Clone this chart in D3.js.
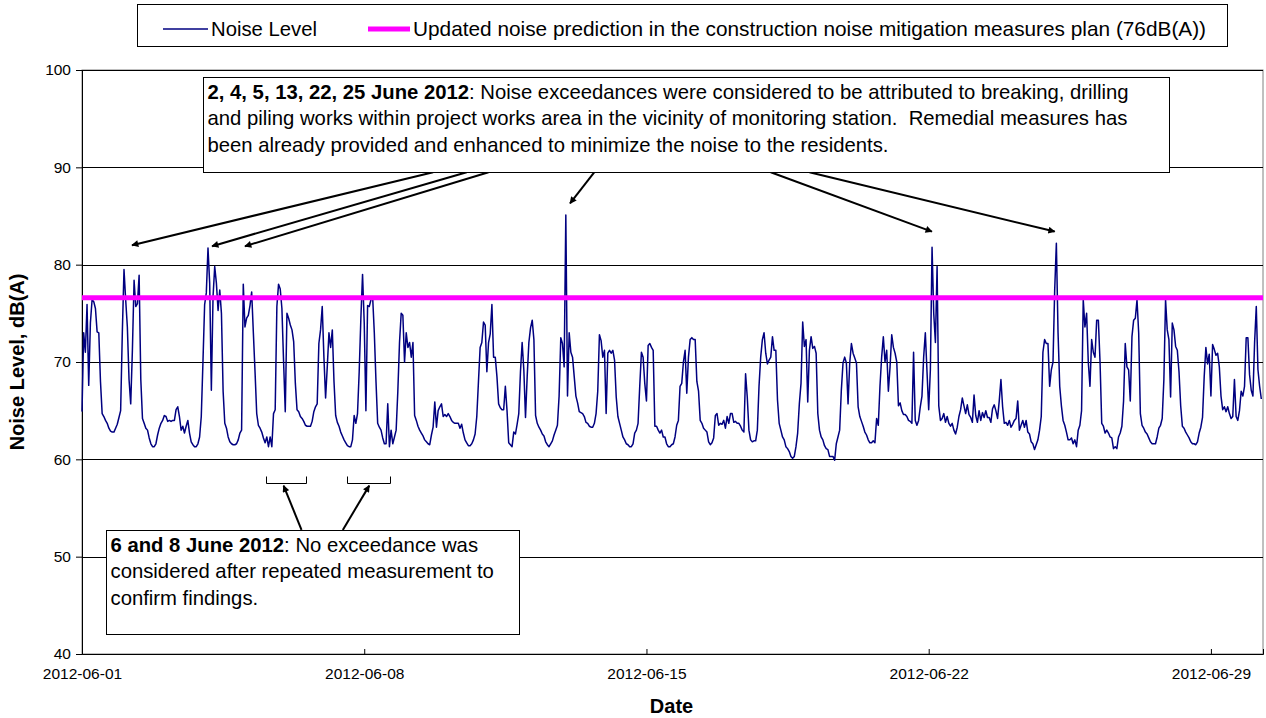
<!DOCTYPE html>
<html>
<head>
<meta charset="utf-8">
<script src="https://cdn.jsdelivr.net/npm/d3@7"></script>
<style>
  body { margin: 0; background: #fff; }
  text { font-family: "Liberation Sans", Arial, sans-serif; }
</style>
</head>
<body>
<svg id="chart" width="1266" height="718"></svg>
<script>
// hourly noise readings, 2012-06-01 00:00 onwards, one row per day
const startTime = new Date(2012, 5, 1, 0);
const endTime = new Date(2012, 5, 30, 7);

const week1 = [
  64.9, 73, 71, 75.9, 67.6, 74, 76.4, 76.2, 75.5, 73.1, 73, 68, 64.7, 64.4, 64, 63.7, 63.2, 62.9, 62.8, 62.8, 63.2, 63.6, 64.3, 65,
  73, 79.5, 76.4, 73.6, 68.2, 65.7, 71.2, 78.4, 75.7, 76, 78.9, 68.2, 64.2, 63.7, 63.2, 63, 62.2, 61.6, 61.3, 61.3, 61.6, 62.5, 63.2, 63.7,
  64, 64.5, 64.4, 63.9, 64, 63.9, 64, 64, 65.1, 65.4, 64.4, 63, 63.4, 62.7, 63.4, 64, 62.7, 61.8, 61.5, 61.3, 61.3, 61.6, 62.3, 64.4,
  70, 75.9, 77.1, 81.7, 78.1, 67.1, 76.7, 79.8, 78.1, 75.3, 77.4, 75, 67, 63.7, 63.2, 62.3, 61.8, 61.6, 61.5, 61.5, 61.6, 62, 62.7, 63,
  78, 73.6, 74.5, 74.8, 75.8, 77.2, 73, 69, 64.7, 63.5, 63.2, 62.8, 62.2, 61.7, 62.3, 61.3, 62.3, 61.3, 64.7, 65.1, 75.7, 78, 77.5, 75.5,
  70, 64.9, 75, 74.5, 73.8, 73.3, 72.1, 67.8, 65.1, 64.9, 64.4, 64.2, 63.9, 63.5, 63.4, 63.4, 63.4, 63.9, 64.9, 65.4, 65.7, 71.9, 73.3, 75.7,
  70.5, 66.3, 69.5, 73, 71.5, 73.3, 68, 64.5, 63.8, 63.4, 62.8, 62.4, 62, 61.7, 61.4, 61.3, 61.3, 62, 64.5, 63.7, 64.7, 69, 74.5, 79
];
const week2 = [
  74, 65, 75.8, 75.7, 76.4, 76.7, 73, 68, 63.7, 63.3, 63, 62.2, 61.6, 61.6, 65.7, 61.3, 63, 61.6, 62.3, 63, 67, 72, 75, 74.8,
  70, 73, 71.5, 72, 70.5, 72, 64.5, 64, 63.4, 63, 62.7, 62.4, 62, 61.8, 61.6, 61.5, 62.5, 63.3, 65.9, 63.3, 65, 65.4, 65.7, 64.4,
  64.6, 64.4, 64.7, 64.4, 64, 63.8, 63.7, 63.7, 63.7, 63.2, 63.6, 62.7, 62, 61.7, 61.4, 61.4, 61.6, 62, 62.6, 64.4, 68, 71.5, 72, 74.1,
  73.8, 69, 72, 72.9, 75.9, 70.5, 70.5, 68.5, 65.7, 65.3, 65.1, 65.1, 67.5, 65, 61.7, 61.5, 61.3, 62.8, 62.6, 63.6, 64.7, 69, 72, 69.2,
  64.3, 68.5, 72, 73.5, 74.3, 72.3, 64.5, 63.7, 63.3, 63, 62.6, 62.4, 61.8, 61.5, 61.3, 61.6, 61.9, 62.5, 63, 63.5, 66.5, 72.5, 71.9, 69.5,
  85.1, 66.5, 73, 71, 70.5, 68.5, 66.5, 65.8, 64.9, 64.8, 64.7, 64.4, 63.8, 63.7, 63.4, 63.3, 63.3, 63.7, 64.7, 67, 72.8, 72.2, 70.5, 71.2,
  64.7, 70.9, 71.2, 70.9, 71.2, 70.2, 66.4, 64.4, 63.7, 63, 62.3, 62, 61.6, 61.5, 61.3, 61.3, 61.6, 62.7, 63, 63.7, 67.5, 71, 70.5, 67.8
];
const week3 = [
  66, 71.7, 71.9, 71.5, 71.2, 63.4, 63.4, 63, 62.7, 63, 62.3, 62.3, 61.6, 61.3, 61.3, 61.5, 61.6, 62.3, 63.5, 64, 67.5, 67.8, 70, 71.2,
  66.8, 70.5, 72.3, 72.5, 72.3, 72.3, 68, 67, 64, 63.7, 63.2, 63, 62.8, 61.8, 61.5, 61.7, 62.2, 64.5, 64.7, 63.5, 63.7, 63.6, 64, 63.2,
  64.4, 63.7, 64.7, 64.7, 63.8, 63.9, 63.7, 63.7, 63.4, 63, 62.8, 68.8, 66.4, 63, 62, 61.8, 61.9, 61.9, 63, 67.5, 70.5, 72.3, 73, 70.9,
  69.8, 70.2, 70.5, 72.6, 71.2, 71.2, 66.1, 63.7, 63, 62.3, 62, 61.3, 61.1, 60.8, 60.3, 60.1, 60.3, 61.3, 62.7, 65.7, 67.8, 74.1, 71.6, 72.3,
  65.9, 71.2, 72.6, 71.4, 71.6, 70.9, 64.7, 63, 62.3, 62, 61.4, 61.1, 61, 60.3, 60.3, 60.3, 59.9, 61.6, 62.3, 63, 67.1, 69.9, 70.5, 69.9,
  65.7, 69.9, 71.9, 70.9, 70.4, 69.9, 65.4, 64.4, 63.9, 63.4, 62.8, 62.5, 62, 61.7, 61.7, 61.9, 61.7, 64.2, 63.5, 67.5, 70.5, 72.6, 70, 71.2,
  67, 69.5, 72.8, 71.5, 70.9, 70, 65.5, 65.8, 65, 64.6, 64.6, 64.4, 64, 63.9, 63.7, 71, 64, 63.5, 64, 65.4, 66.5, 70.5, 73, 69
];
const week4 = [
  65.1, 69.2, 81.8, 75, 72, 79.8, 65.5, 64, 64.2, 64.7, 63.8, 64.4, 63.7, 63.4, 63.7, 63, 62.6, 63.3, 64.4, 65.1, 66.3, 65.5, 64.7, 65.6,
  64.6, 64.3, 63.8, 66.6, 64.5, 63.8, 65, 64, 64.8, 64.3, 65, 64.3, 64.3, 63.8, 65.2, 65.6, 65, 64.2, 66, 68.2, 65.4, 63.7, 63.8, 63.5,
  64, 63.3, 63.6, 64, 64.2, 66, 63, 63.5, 64, 63.3, 64, 62.8, 62.6, 61.8, 61.6, 61, 61.5, 62, 63, 64.4, 71, 72.3, 71.9, 71.9,
  67.5, 69.2, 70, 77.4, 82.2, 73, 67.5, 65.5, 64, 63.5, 62.8, 62, 62, 62.2, 61.6, 62, 61.3, 63, 63.5, 65, 76.4, 73.6, 75, 70,
  67.5, 72.3, 71, 70.5, 74.3, 74.3, 70, 63.7, 63.4, 62.7, 63, 62.7, 62.3, 62.2, 61.1, 61.3, 61.1, 62.3, 62.7, 63.4, 66, 71.9, 69.5, 69.2,
  66, 72.6, 74.3, 74.5, 76.4, 73, 64.7, 63.5, 63.2, 62.8, 62.6, 62.2, 61.8, 61.6, 61.6, 61.6, 62.3, 63.2, 63.5, 64.2, 68.2, 76.4, 73.3, 72.3,
  66.4, 74, 73.3, 71.6, 71.2, 69, 65.5, 63.4, 63.2, 62.8, 62.5, 62.2, 61.8, 61.6, 61.6, 61.5, 61.8, 62.7, 63.3, 64.3, 68.5, 71.5, 69.8, 70.8
];
const week5 = [
  66.5, 71.8, 71.3, 70.7, 70.9, 69.5, 66.5, 65.1, 65.4, 64.9, 65.4, 64.7, 64.2, 64.4, 68.2, 64.4, 64, 65, 67, 66.5, 67.5, 72.5, 72.5, 68.7,
  67.1, 66.5, 72, 75.7, 69.2, 67.5, 66.2
];

const predictionLevel = 76.6;
const yTicks = [40, 50, 60, 70, 80, 90, 100];
const xTickDates = ["2012-06-01", "2012-06-08", "2012-06-15", "2012-06-22", "2012-06-29"];

const legendLabels = ["Noise Level", "Updated noise prediction in the construction noise mitigation measures plan (76dB(A))"];

const noteTop = {
  bold: "2, 4, 5, 13, 22, 25 June 2012",
  lines: [
    ": Noise exceedances were considered to be attributed to breaking, drilling",
    "and piling works within project works area in the vicinity of monitoring station.  Remedial measures has",
    "been already provided and enhanced to minimize the noise to the residents."
  ],
  box: [["2012-06-04 00:00", 99.3], ["2012-06-27 23:00", 89.5]],
  // arrow tips as [date, dB]
  targets: [["2012-06-02 05:45", 82.0], ["2012-06-04 05:25", 81.9], ["2012-06-05 01:00", 81.9],
            ["2012-06-13 02:30", 86.3], ["2012-06-22 01:55", 83.4], ["2012-06-25 03:00", 83.4]],
  tails: [["2012-06-09 17:00", 89.5], ["2012-06-10 13:00", 89.5], ["2012-06-11 02:00", 89.5],
          ["2012-06-13 17:00", 89.5], ["2012-06-18 02:00", 89.5], ["2012-06-19 01:00", 89.5]]
};
const noteBottom = {
  bold: "6 and 8 June 2012",
  lines: [": No exceedance was", "considered after repeated measurement to", "confirm findings."],
  box: [["2012-06-01 14:20", 52.75], ["2012-06-11 20:00", 42.05]],
  brackets: [["2012-06-05 13:30", "2012-06-06 13:20"], ["2012-06-07 13:45", "2012-06-08 15:20"]],
  targets: [["2012-06-06 00:00", 57.3], ["2012-06-08 03:00", 57.3]],
  tails: [["2012-06-06 10:40", 52.75], ["2012-06-07 11:15", 52.75]]
};

const noise = [...week1, ...week2, ...week3, ...week4, ...week5]
  .map((v, i) => ({ time: d3.timeHour.offset(startTime, i), value: v }));

const parseTime = d3.timeParse("%Y-%m-%d %H:%M");
const parseDay = d3.timeParse("%Y-%m-%d");

const margin = { top: 70, right: 3, bottom: 64, left: 82 };
const width = 1266 - margin.left - margin.right;
const height = 718 - margin.top - margin.bottom;
const noteFont = 20.3;
const noteLine = 26.5;

const svg = d3.select("#chart");

svg.append("defs").append("marker")
  .attr("id", "arrow")
  .attr("viewBox", "0 0 10 10")
  .attr("refX", 9).attr("refY", 5)
  .attr("markerWidth", 9).attr("markerHeight", 7)
  .attr("markerUnits", "userSpaceOnUse")
  .attr("orient", "auto")
  .append("path")
  .attr("d", "M0,0 L10,5 L0,10 z")
  .attr("fill", "#000");

const x = d3.scaleTime().domain([startTime, endTime]).range([0, width]);
const y = d3.scaleLinear().domain([40, 100]).range([height, 0]);

const chart = svg.append("g").attr("transform", `translate(${margin.left}, ${margin.top})`);

// plot frame
chart.append("rect")
  .attr("x", 0).attr("y", 0)
  .attr("width", width).attr("height", height)
  .attr("fill", "none").attr("stroke", "#808080").attr("stroke-width", 1);

// gridlines
chart.selectAll(".grid")
  .data(yTicks.filter(t => t > 40))
  .enter().append("line")
  .attr("class", "grid")
  .attr("x1", 0).attr("x2", width)
  .attr("y1", d => Math.round(y(d)) + 0.5).attr("y2", d => Math.round(y(d)) + 0.5)
  .attr("stroke", "#000").attr("stroke-width", 1);

const yAxis = chart.append("g")
  .call(d3.axisLeft(y).tickValues(yTicks).tickSize(6).tickPadding(5).tickFormat(d3.format("d")));
yAxis.selectAll("text").style("font-size", "15.5px").attr("fill", "#000");
yAxis.select(".domain").attr("stroke", "#000");

const xAxis = chart.append("g")
  .attr("transform", `translate(0, ${height})`)
  .call(d3.axisBottom(x)
    .tickValues(xTickDates.map(parseDay))
    .tickSize(-5).tickPadding(14)
    .tickFormat(d3.timeFormat("%Y-%m-%d")));
xAxis.selectAll("text").style("font-size", "15.5px").attr("fill", "#000");
xAxis.select(".domain").attr("stroke", "#000");

// noise series
chart.append("path")
  .datum(noise)
  .attr("d", d3.line().x(d => x(d.time)).y(d => y(d.value)))
  .attr("fill", "none")
  .attr("stroke", "#000080")
  .attr("stroke-width", 1.5)
  .attr("stroke-linejoin", "round");

// prediction level
chart.append("line")
  .attr("x1", 0).attr("x2", width)
  .attr("y1", y(predictionLevel)).attr("y2", y(predictionLevel))
  .attr("stroke", "#ff00ff").attr("stroke-width", 5);

// annotation boxes
function noteBox(note) {
  const [[t0, v0], [t1, v1]] = note.box;
  const x0 = Math.round(x(parseTime(t0))) + 0.5;
  const x1 = Math.round(x(parseTime(t1))) + 0.5;
  const y0 = Math.round(y(v0)) + 0.5;
  const y1 = Math.round(y(v1)) + 0.5;
  chart.append("rect")
    .attr("x", x0).attr("y", y0)
    .attr("width", x1 - x0).attr("height", y1 - y0)
    .attr("fill", "#fff").attr("stroke", "#000").attr("stroke-width", 1);
  const t = chart.append("text")
    .attr("x", x0 + 4).attr("y", y0 + 21)
    .style("font-size", `${noteFont}px`).attr("fill", "#000");
  t.append("tspan").style("font-weight", "bold").text(note.bold);
  t.append("tspan").text(note.lines[0]);
  note.lines.slice(1).forEach((line, i) => {
    chart.append("text")
      .attr("x", x0 + 4).attr("y", y0 + 21 + noteLine * (i + 1))
      .style("font-size", `${noteFont}px`).attr("fill", "#000")
      .style("white-space", "pre")
      .text(line);
  });
}

const arrows = (note) => chart.selectAll(null)
  .data(d3.zip(note.tails, note.targets))
  .enter().append("line")
  .attr("x1", d => x(parseTime(d[0][0]))).attr("y1", d => y(d[0][1]))
  .attr("x2", d => x(parseTime(d[1][0]))).attr("y2", d => y(d[1][1]))
  .attr("stroke", "#000").attr("stroke-width", 2)
  .attr("marker-end", "url(#arrow)");

arrows(noteTop);
noteBox(noteTop);

noteBottom.brackets.forEach(([a, b]) => {
  const xa = Math.round(x(parseTime(a))) + 0.5;
  const xb = Math.round(x(parseTime(b))) + 0.5;
  const yb = Math.round(y(57.6)) + 0.5;
  const yt = Math.round(y(58.3)) + 0.5;
  chart.append("path")
    .attr("d", `M${xa},${yt} L${xa},${yb} L${xb},${yb} L${xb},${yt}`)
    .attr("fill", "none").attr("stroke", "#000").attr("stroke-width", 1);
});
arrows(noteBottom);
noteBox(noteBottom);

// axis titles
svg.append("text")
  .attr("transform", `translate(24, ${margin.top + height / 2}) rotate(-90)`)
  .attr("text-anchor", "middle")
  .style("font-size", "20px").style("font-weight", "bold")
  .text("Noise Level, dB(A)");

svg.append("text")
  .attr("x", margin.left + width / 2 - 1).attr("y", 713)
  .attr("text-anchor", "middle")
  .style("font-size", "20px").style("font-weight", "bold")
  .text("Date");

// legend
const legend = svg.append("g");
legend.append("rect")
  .attr("x", 137.5).attr("y", 4.5).attr("width", 1090).attr("height", 42)
  .attr("fill", "#fff").attr("stroke", "#000").attr("stroke-width", 1);
legend.append("line")
  .attr("x1", 163).attr("x2", 208).attr("y1", 29).attr("y2", 29)
  .attr("stroke", "#000080").attr("stroke-width", 1.5);
legend.append("text")
  .attr("x", 211).attr("y", 36)
  .style("font-size", "20.3px")
  .text(legendLabels[0]);
legend.append("line")
  .attr("x1", 368).attr("x2", 410).attr("y1", 29).attr("y2", 29)
  .attr("stroke", "#ff00ff").attr("stroke-width", 5);
legend.append("text")
  .attr("x", 413).attr("y", 36)
  .style("font-size", "20.8px")
  .text(legendLabels[1]);
</script>
</body>
</html>
